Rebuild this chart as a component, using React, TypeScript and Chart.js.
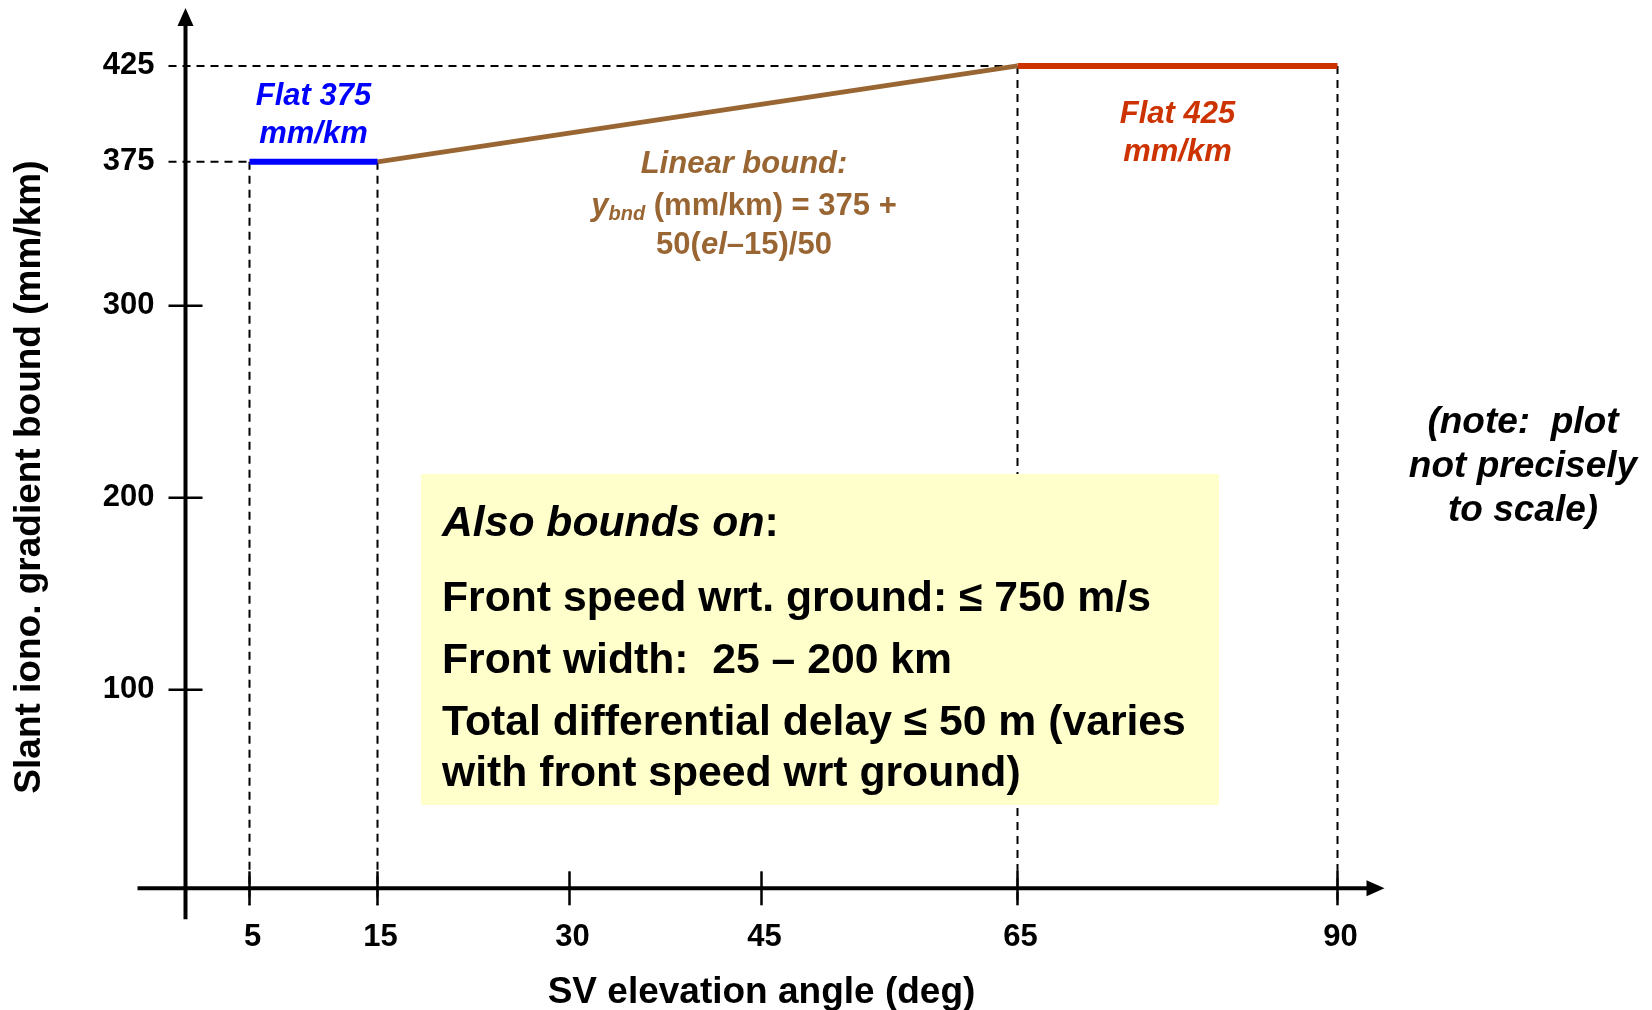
import React, { useEffect, useRef } from "react";
import { Chart, registerables } from "chart.js";

Chart.register(...registerables);

// ---- data ----
const xTicks = [5, 15, 30, 45, 65, 90];
const yTicks = [100, 200, 300, 375, 425];
const solidYTicks = [100, 200, 300];
const flat375X = [5, 15];
const flat375Y = [375, 375];
const linearX = [15, 65];
const linearY = [375, 425];
const flat425X = [65, 90];
const flat425Y = [425, 425];
const guideVertX = [5, 15, 65, 90];
const guideVertY = [375, 375, 425, 425];
const guideHorX = [5, 65];
const guideHorY = [375, 425];
const xTitle = "SV elevation angle (deg)";
const yTitle = "Slant iono. gradient bound (mm/km)";
const X_MIN = 0;
const X_MAX = 90;
const Y_MIN = -3.5;
const Y_MAX = 425;

const FONT = '"Liberation Sans", Arial, Helvetica, sans-serif';
const BLUE = "#0000FF";
const BROWN = "#996633";
const RED = "#CC3300";
const YELLOW = "#FFFFCC";

type Seg = { t: string; f: string; dy?: number };

function richLine(ctx: CanvasRenderingContext2D, segs: Seg[], x: number, y: number, align: "center" | "left", color: string) {
  ctx.textBaseline = "middle";
  ctx.textAlign = "left";
  ctx.fillStyle = color;
  let total = 0;
  for (const s of segs) {
    ctx.font = s.f;
    total += ctx.measureText(s.t).width;
  }
  let cx = align === "center" ? x - total / 2 : x;
  for (const s of segs) {
    ctx.font = s.f;
    ctx.fillText(s.t, cx, y + (s.dy || 0));
    cx += ctx.measureText(s.t).width;
  }
}

function centerLines(ctx: CanvasRenderingContext2D, lines: string[], x: number, ys: number[], font: string, color: string) {
  ctx.font = font;
  ctx.fillStyle = color;
  ctx.textAlign = "center";
  ctx.textBaseline = "middle";
  lines.forEach((l, i) => ctx.fillText(l, x, ys[i]));
}

const decorPlugin = {
  id: "decor",
  beforeDatasetsDraw(chart: any) {
    const { ctx, scales, chartArea } = chart;
    const xs = scales.x;
    const ys = scales.y;
    const ax = xs.getPixelForValue(0);
    const bottom = chartArea.bottom;
    ctx.save();
    // dashed guides
    ctx.strokeStyle = "#000";
    ctx.lineWidth = 2;
    ctx.setLineDash([8, 6]);
    guideVertX.forEach((gx, i) => {
      const px = xs.getPixelForValue(gx);
      ctx.beginPath();
      ctx.moveTo(px, ys.getPixelForValue(guideVertY[i]));
      ctx.lineTo(px, bottom + 17);
      ctx.stroke();
    });
    guideHorX.forEach((gx, i) => {
      const py = ys.getPixelForValue(guideHorY[i]);
      ctx.beginPath();
      ctx.moveTo(ax - 17, py);
      ctx.lineTo(xs.getPixelForValue(gx), py);
      ctx.stroke();
    });
    ctx.setLineDash([]);
    // axes
    ctx.lineWidth = 4;
    ctx.fillStyle = "#000";
    ctx.beginPath();
    ctx.moveTo(ax, bottom + 31);
    ctx.lineTo(ax, 24);
    ctx.stroke();
    ctx.beginPath();
    ctx.moveTo(ax, 8);
    ctx.lineTo(ax - 8, 26);
    ctx.lineTo(ax + 8, 26);
    ctx.closePath();
    ctx.fill();
    const xEnd = xs.getPixelForValue(X_MAX) + 47;
    ctx.beginPath();
    ctx.moveTo(ax - 48, bottom);
    ctx.lineTo(xEnd - 16, bottom);
    ctx.stroke();
    ctx.beginPath();
    ctx.moveTo(xEnd, bottom);
    ctx.lineTo(xEnd - 18, bottom - 8);
    ctx.lineTo(xEnd - 18, bottom + 8);
    ctx.closePath();
    ctx.fill();
    // ticks
    ctx.lineWidth = 2.5;
    xTicks.forEach((v) => {
      const px = xs.getPixelForValue(v);
      ctx.beginPath();
      ctx.moveTo(px, bottom - 17);
      ctx.lineTo(px, bottom + 17);
      ctx.stroke();
    });
    solidYTicks.forEach((v) => {
      const py = ys.getPixelForValue(v);
      ctx.beginPath();
      ctx.moveTo(ax - 17, py);
      ctx.lineTo(ax + 17, py);
      ctx.stroke();
    });
    ctx.restore();
  },
  afterDatasetsDraw(chart: any) {
    const { ctx, scales } = chart;
    const xs = scales.x;
    ctx.save();
    // annotations
    const c375 = (xs.getPixelForValue(flat375X[0]) + xs.getPixelForValue(flat375X[1])) / 2;
    centerLines(ctx, ["Flat 375", "mm/km"], c375, [96.5, 134.5], `italic bold 31px ${FONT}`, BLUE);
    const c425 = (xs.getPixelForValue(flat425X[0]) + xs.getPixelForValue(flat425X[1])) / 2;
    centerLines(ctx, ["Flat 425", "mm/km"], c425, [114.5, 152.5], `italic bold 31px ${FONT}`, RED);
    centerLines(ctx, ["Linear bound:"], 744, [164], `italic bold 31px ${FONT}`, BROWN);
    richLine(ctx, [
      { t: "y", f: `italic bold 31px ${FONT}` },
      { t: "bnd", f: `italic bold 20px ${FONT}`, dy: 8 },
      { t: " (mm/km) = 375 +", f: `bold 31px ${FONT}` },
    ], 744, 206, "center", BROWN);
    richLine(ctx, [
      { t: "50(", f: `bold 31px ${FONT}` },
      { t: "el", f: `italic bold 31px ${FONT}` },
      { t: "\u201315)/50", f: `bold 31px ${FONT}` },
    ], 744, 245, "center", BROWN);
    // note
    centerLines(ctx, ["(note:  plot", "not precisely", "to scale)"], 1523, [422.5, 466.5, 510.5], `italic bold 37px ${FONT}`, "#000");
    // yellow box
    ctx.fillStyle = YELLOW;
    ctx.fillRect(421, 474, 798, 331);
    richLine(ctx, [
      { t: "Also bounds on", f: `italic bold 42.7px ${FONT}` },
      { t: ":", f: `bold 42.7px ${FONT}` },
    ], 442, 524.5, "left", "#000");
    ctx.font = `bold 42.7px ${FONT}`;
    ctx.fillStyle = "#000";
    ctx.textAlign = "left";
    ctx.textBaseline = "middle";
    ctx.fillText("Front speed wrt. ground: \u2264 750 m/s", 442, 599);
    ctx.fillText("Front width:  25 \u2013 200 km", 442, 661);
    ctx.fillText("Total differential delay \u2264 50 m (varies", 442, 723);
    ctx.fillText("with front speed wrt ground)", 442, 774);
    ctx.restore();
  },
};

function pts(xa: number[], ya: number[]) {
  return xa.map((x, i) => ({ x, y: ya[i] }));
}

export default function App() {
  const ref = useRef<HTMLCanvasElement | null>(null);
  useEffect(() => {
    if (!ref.current) return;
    const lineDs = (label: string, data: any[], color: string, w: number) => ({
      label,
      data,
      borderColor: color,
      backgroundColor: color,
      borderWidth: w,
      pointRadius: 0,
      tension: 0,
      fill: false,
      clip: false as any,
    });
    const chart = new Chart(ref.current, {
      type: "line",
      data: {
        datasets: [
          lineDs("Flat 375", pts(flat375X, flat375Y), BLUE, 6),
          lineDs("Linear bound", pts(linearX, linearY), BROWN, 5),
          lineDs("Flat 425", pts(flat425X, flat425Y), RED, 6),
        ],
      },
      options: {
        animation: false,
        responsive: false,
        devicePixelRatio: 1,
        layout: { padding: { top: 65.9, right: 314.5, bottom: 0, left: 0 } },
        plugins: { legend: { display: false }, tooltip: { enabled: false } },
        scales: {
          x: {
            type: "linear",
            min: X_MIN,
            max: X_MAX,
            position: "bottom",
            grid: { display: false, drawTicks: false },
            border: { display: false },
            afterBuildTicks: (axis: any) => {
              axis.ticks = xTicks.map((v) => ({ value: v }));
            },
            afterFit: (scale: any) => {
              scale.height = 121.7;
            },
            ticks: {
              autoSkip: false,
              maxRotation: 0,
              padding: 31,
              labelOffset: 3,
              color: "#000",
              font: { family: FONT, size: 31, weight: "bold" },
              callback: (v: any) => String(v),
            },
            title: {
              display: true,
              text: xTitle,
              color: "#000",
              font: { family: FONT, size: 37, weight: "bold" },
              padding: { top: 0, bottom: -5 },
            },
          },
          y: {
            type: "linear",
            min: Y_MIN,
            max: Y_MAX,
            position: "left",
            grid: { display: false, drawTicks: false },
            border: { display: false },
            afterBuildTicks: (axis: any) => {
              axis.ticks = yTicks.map((v) => ({ value: v }));
            },
            afterFit: (scale: any) => {
              scale.width = 185.5;
            },
            ticks: {
              autoSkip: false,
              padding: 31,
              color: "#000",
              font: { family: FONT, size: 31, weight: "bold" },
              callback: (v: any) => String(v),
            },
            title: {
              display: true,
              text: yTitle,
              color: "#000",
              font: { family: FONT, size: 37, weight: "bold" },
              padding: { top: 8, bottom: 0 },
            },
          },
        },
      } as any,
      plugins: [decorPlugin],
    });
    return () => chart.destroy();
  }, []);
  return (
    <div style={{ position: "fixed", left: 0, top: 0, width: 1652, height: 1010, background: "#fff" }}>
      <canvas ref={ref} width={1652} height={1010} style={{ display: "block" }} />
    </div>
  );
}
